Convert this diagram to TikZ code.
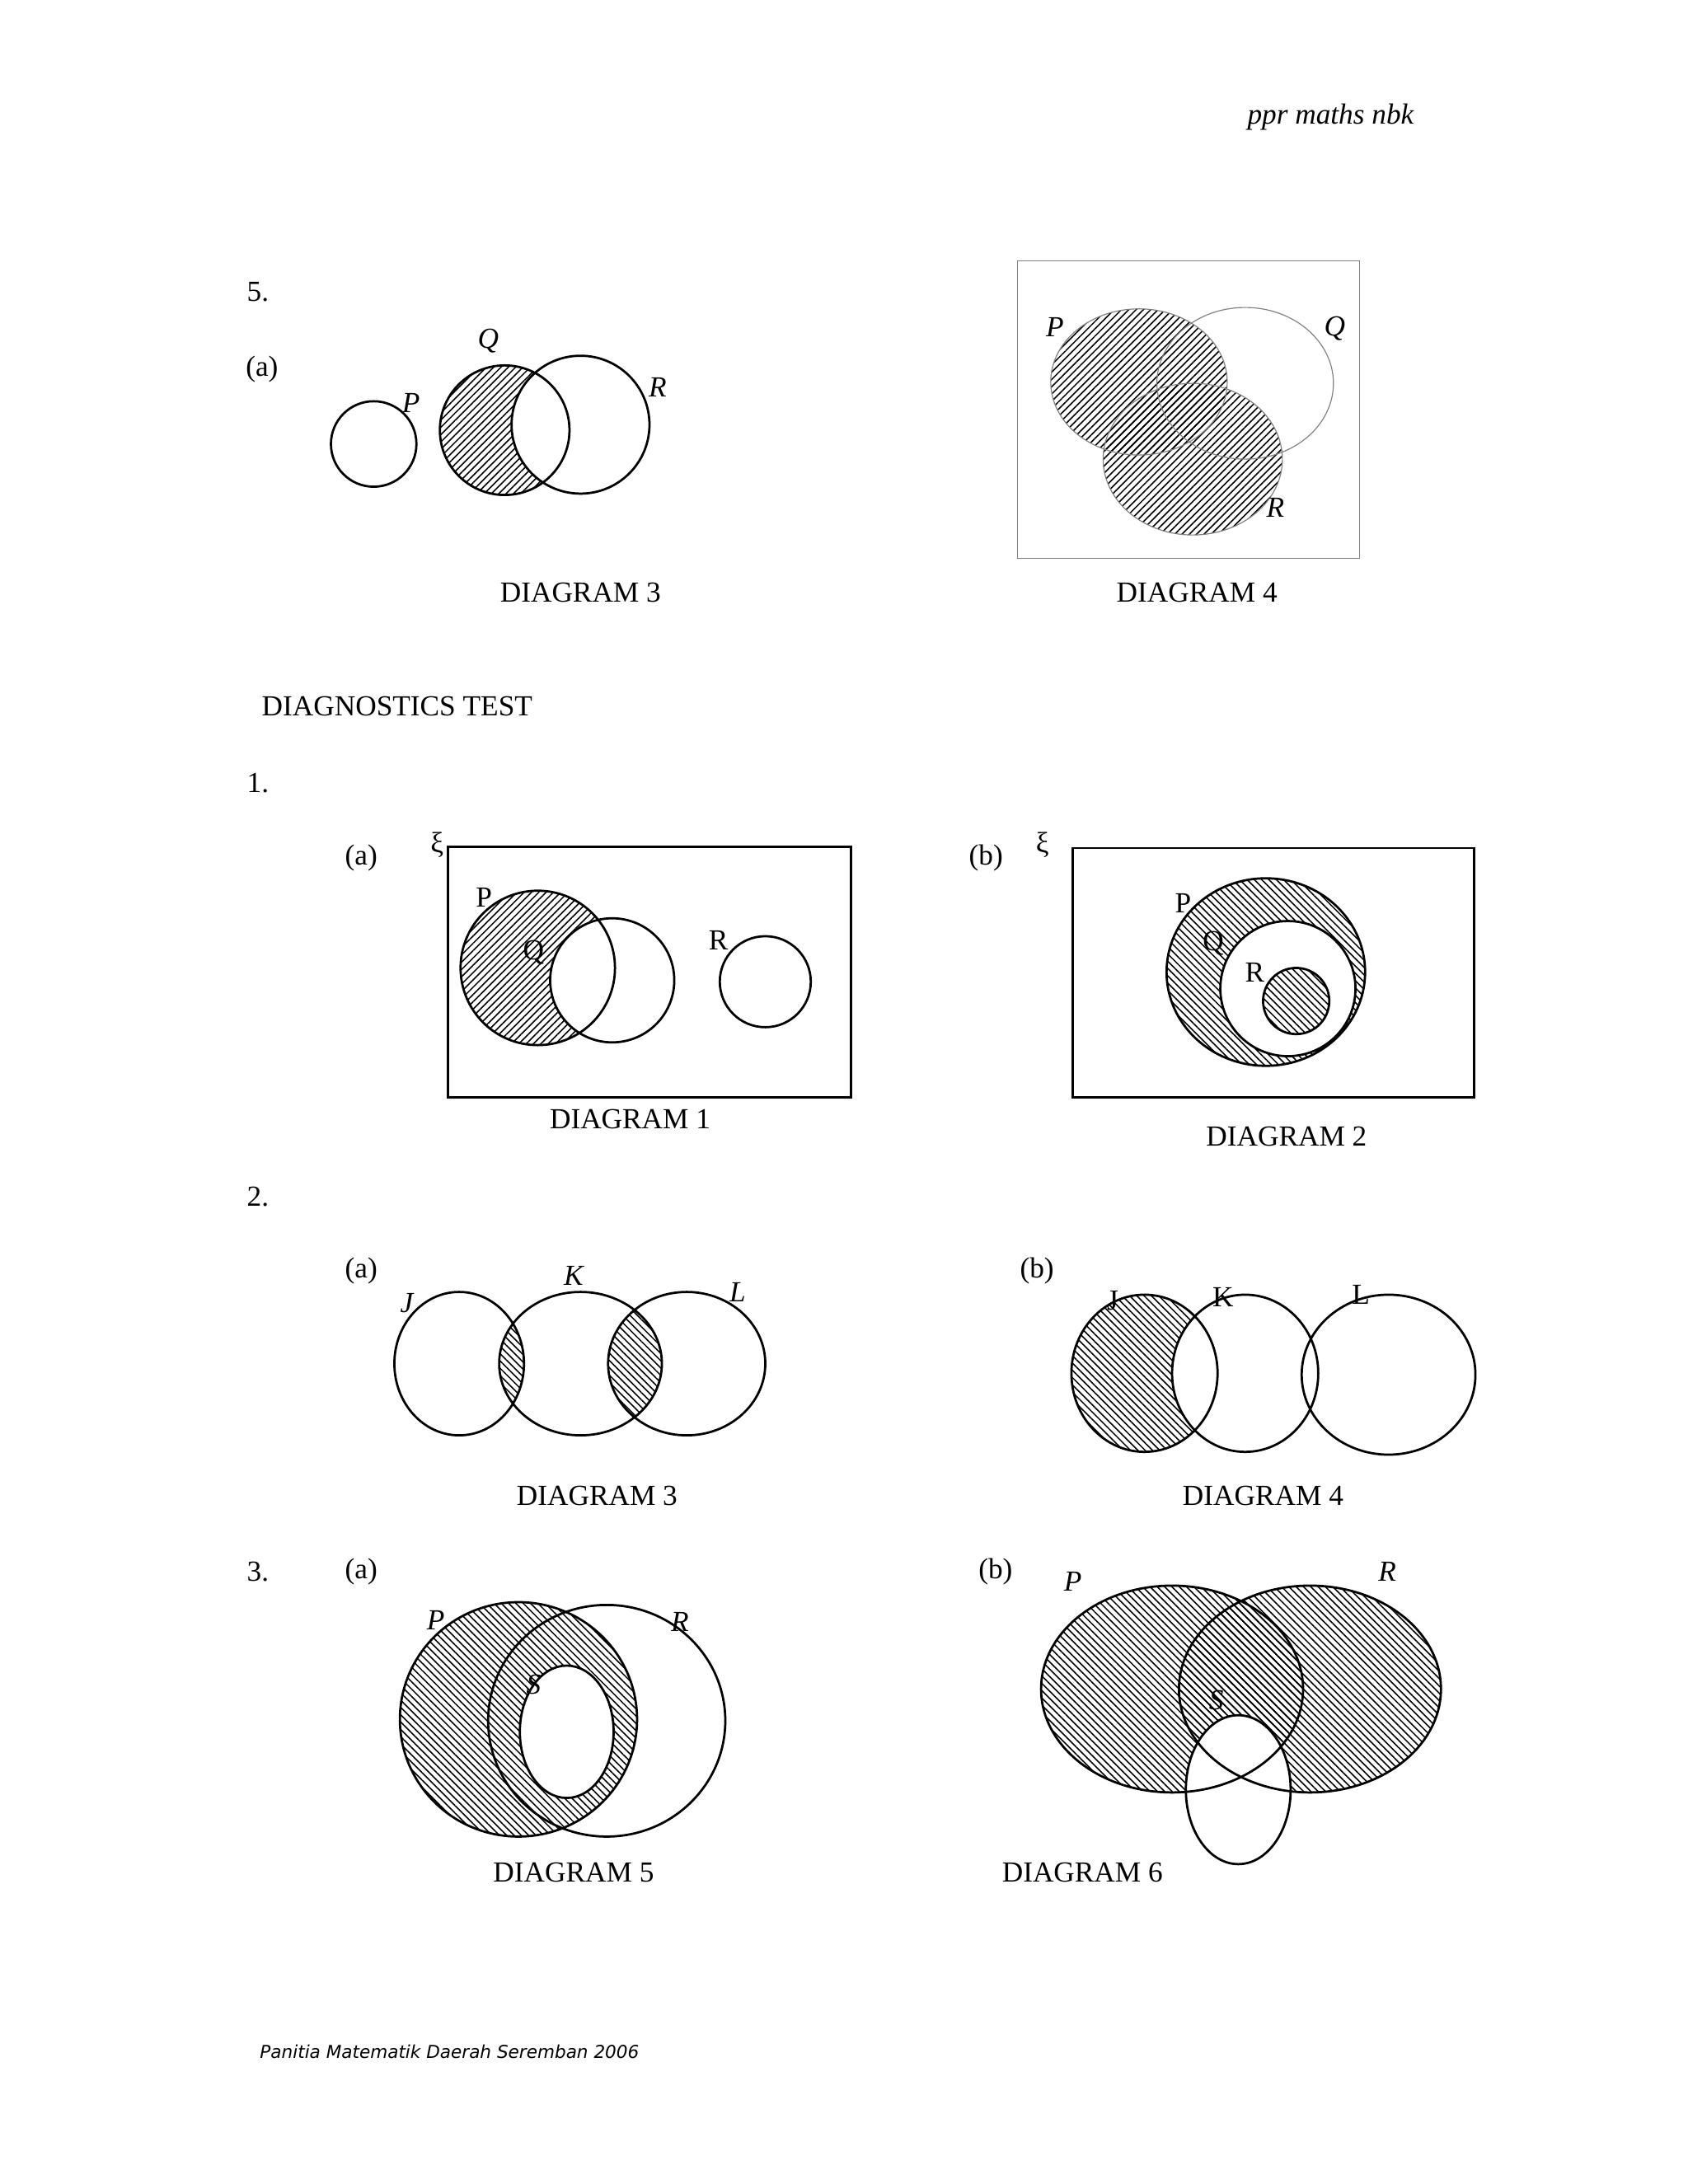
\documentclass[tikz,border=0pt]{standalone}
\usepackage{fontspec}
\setmainfont{Liberation Serif}
\newfontfamily\footfont{DejaVu Sans}
\usetikzlibrary{patterns.meta}
\begin{document}
\begin{tikzpicture}[x=0.03cm,y=-0.03cm,
  txt/.style={font=\fontsize{18}{21}\selectfont,inner sep=0pt},
  lbl/.style={font=\fontsize{18}{21}\selectfont\itshape,inner sep=0pt},
  ulbl/.style={font=\fontsize{18}{21}\selectfont,inner sep=0pt},
  ln/.style={line width=1.4pt},
  hne/.style={pattern={Lines[angle=45,distance=3.2pt,line width=0.8pt]}},
  hnw/.style={pattern={Lines[angle=-45,distance=3.2pt,line width=0.8pt]}}]
\useasboundingbox (0,0) rectangle (1224,1584);
\fill[white] (0,0) rectangle (1224,1584);
\node[lbl] (hdr) at (965,85) {ppr maths nbk};
\node[txt] (n5) at (187,212) {5.};
\node[txt] (a5) at (190,268) {(a)};
% top diagram 3
\begin{scope}
\clip (366,312) circle (47);
\fill[hne,even odd rule] (300,250) rectangle (430,370) (421,308) circle (50);
\end{scope}
\draw[ln] (271,322) circle (31) (366,312) circle (47) (421,308) circle (50);
\node[lbl] (q1) at (354,247) {Q};
\node[lbl] (p1) at (298,292) {P};
\node[lbl] (r1) at (477,281) {R};
\node[txt] (d3t) at (421,430) {DIAGRAM 3};
% top diagram 4
\draw[gray,line width=0.7pt] (738,189) rectangle (986,405);
\fill[hne] (826,277) ellipse [x radius=64,y radius=53];
\fill[hne] (865,333) ellipse [x radius=65,y radius=55];
\draw[gray,line width=0.6pt] (826,277) ellipse [x radius=64,y radius=53]
  (903,278) ellipse [x radius=64,y radius=55] (865,333) ellipse [x radius=65,y radius=55];
\node[lbl] (p2) at (765,237) {P};
\node[lbl] (q2) at (968,238) {Q};
\node[lbl] (r2) at (925,368) {R};
\node[txt] (d4t) at (868,430) {DIAGRAM 4};
\node[txt] (dt) at (288,512) {DIAGNOSTICS TEST};
\node[txt] (n1) at (187,568) {1.};
% 1(a)
\node[txt] (a1) at (262,622) {(a)};
\node[ulbl] (xi1) at (317,613) {ξ};
\draw[ln] (325,614) rectangle (617,796);
\begin{scope}
\clip (390,702) circle (56);
\fill[hne,even odd rule] (320,630) rectangle (460,770) (444,711) circle (45);
\end{scope}
\draw[ln] (390,702) circle (56) (444,711) circle (45) (555,712) circle (33);
\node[ulbl] (p3) at (351,651) {P};
\node[ulbl] (q3) at (387,691) {Q};
\node[ulbl] (r3) at (521,682) {R};
\node[txt] (d1) at (457,812) {DIAGRAM 1};
% 1(b)
\node[txt] (b1) at (715,622) {(b)};
\node[ulbl] (xi2) at (756,613) {ξ};
\draw[ln] (778,615) rectangle (1069,796);
\fill[hnw,even odd rule] (918,705) ellipse [x radius=72,y radius=68] (934,717) circle (49);
\fill[hnw] (940,726) circle (24);
\draw[ln] (918,705) ellipse [x radius=72,y radius=68] (934,717) circle (49) (940,726) circle (24);
\node[ulbl] (p4) at (858,655) {P};
\node[ulbl] (q4) at (880,684) {Q};
\node[ulbl] (r4) at (910,705) {R};
\node[txt] (d2) at (933,824) {DIAGRAM 2};
\node[txt] (n2) at (187,868) {2.};
% 2(a)
\node[txt] (a2) at (262,922) {(a)};
\begin{scope}
\clip (421,989) ellipse [x radius=59,y radius=52];
\fill[hnw] (333,989) ellipse [x radius=47,y radius=52];
\fill[hnw] (498,989) ellipse [x radius=57,y radius=52];
\end{scope}
\draw[ln] (333,989) ellipse [x radius=47,y radius=52] (421,989) ellipse [x radius=59,y radius=52] (498,989) ellipse [x radius=57,y radius=52];
\node[lbl] (j1) at (295,945) {J};
\node[lbl] (k1) at (416,925) {K};
\node[lbl] (l1) at (535,937) {L};
\node[txt] (d3) at (433,1085) {DIAGRAM 3};
% 2(b)
\node[txt] (b2) at (752,922) {(b)};
\begin{scope}
\clip (830,996) ellipse [x radius=53,y radius=57];
\fill[hnw,even odd rule] (770,930) rectangle (890,1060) (903,996) ellipse [x radius=53,y radius=57];
\end{scope}
\draw[ln] (830,996) ellipse [x radius=53,y radius=57] (903,996) ellipse [x radius=53,y radius=57] (1007,997) ellipse [x radius=63,y radius=58];
\node[ulbl] (j2) at (807,943) {J};
\node[ulbl] (k2) at (887,941) {K};
\node[ulbl] (l2) at (987,939) {L};
\node[txt] (d4) at (916,1085) {DIAGRAM 4};
% 3(a)
\node[txt] (n3) at (187,1140) {3.};
\node[txt] (a3) at (262,1140) {(a)};
\fill[hnw] (376,1247) ellipse [x radius=86,y radius=85];
\fill[white] (411,1256) ellipse [x radius=34,y radius=48];
\draw[ln] (376,1247) ellipse [x radius=86,y radius=85] (440,1248) ellipse [x radius=86,y radius=84] (411,1256) ellipse [x radius=34,y radius=48];
\node[lbl] (p5) at (316,1175) {P};
\node[lbl] (r5) at (493,1176) {R};
\node[lbl] (s5) at (387,1222) {S};
\node[txt] (d5) at (416,1358) {DIAGRAM 5};
% 3(b)
\node[txt] (b3) at (722,1140) {(b)};
\fill[hnw] (850,1225) ellipse [x radius=95,y radius=75];
\fill[hnw] (950,1225) ellipse [x radius=95,y radius=75];
\begin{scope}
\clip (850,1225) ellipse [x radius=95,y radius=75] (950,1225) ellipse [x radius=95,y radius=75];
\fill[white] (898,1298) ellipse [x radius=38,y radius=54];
\end{scope}
\draw[ln] (850,1225) ellipse [x radius=95,y radius=75] (950,1225) ellipse [x radius=95,y radius=75] (898,1298) ellipse [x radius=38,y radius=54];
\node[lbl] (p6) at (778,1147) {P};
\node[lbl] (r6) at (1006,1140) {R};
\node[lbl] (s6) at (882,1233) {S};
\node[txt] (d6) at (785,1358) {DIAGRAM 6};
\node[font=\footfont\fontsize{11}{13}\selectfont\itshape,inner sep=0pt] (ft) at (326,1488) {Panitia Matematik Daerah Seremban 2006};
\end{tikzpicture}
\end{document}
